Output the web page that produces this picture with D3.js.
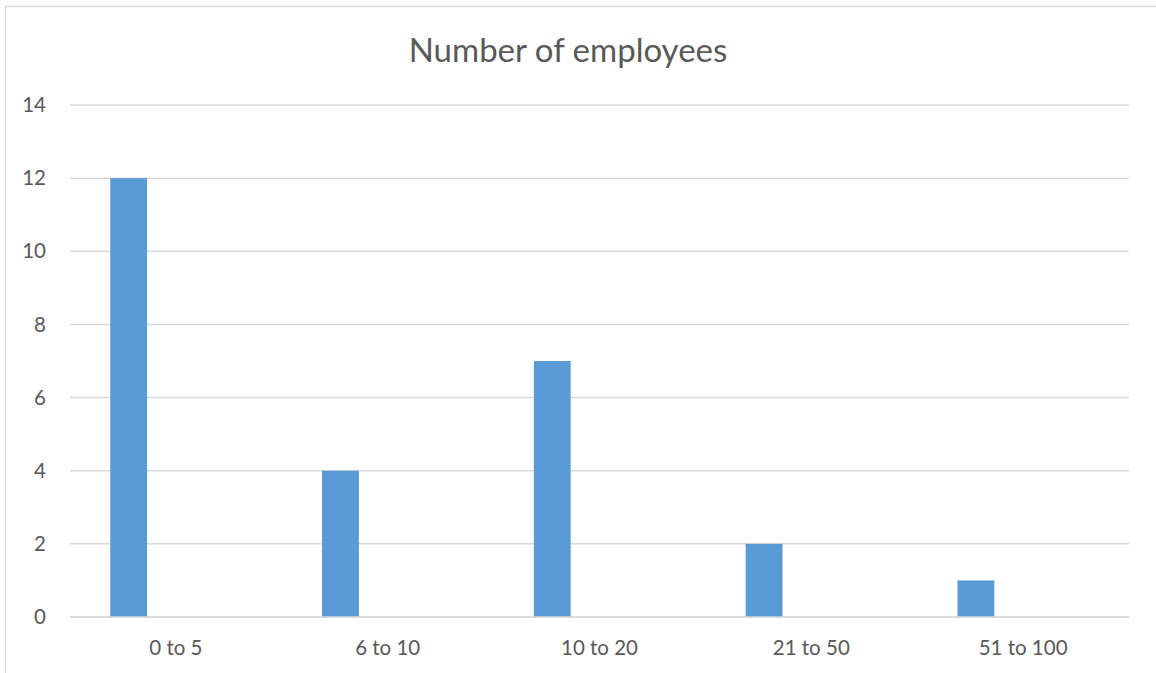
<!DOCTYPE html>
<html>
<head>
<meta charset="utf-8">
<script src="https://cdn.jsdelivr.net/npm/d3@7"></script>
<style>
  body { margin: 0; background: #fff; }
  text { font-family: Lato, "Open Sans", sans-serif; fill: #595959; }
</style>
</head>
<body>
<svg id="chart"></svg>
<script>
// chart values
const categories = ["0 to 5", "6 to 10", "10 to 20", "21 to 50", "51 to 100"]
const employees = [12, 4, 7, 2, 1]
const yTicks = [0, 2, 4, 6, 8, 10, 12, 14]
const title = "Number of employees"

const width = 1156
const height = 673
const margin = {left: 70, right: 27, top: 105, bottom: 56}

const svg = d3.select("#chart")
    .attr("width", width)
    .attr("height", height)

// outer chart border (cropped on right/bottom like the screenshot)
svg.append("rect")
    .attr("x", 5.5).attr("y", 6.5)
    .attr("width", width + 10).attr("height", height + 10)
    .attr("fill", "none")
    .attr("stroke", "#d9d9d9")
    .attr("stroke-width", 1.5)

const x = d3.scaleBand()
    .domain(categories)
    .range([margin.left, width - margin.right])

const y = d3.scaleLinear()
    .domain([0, 14])
    .range([height - margin.bottom, margin.top])

// gridlines
svg.append("g")
    .selectAll("line")
    .data(yTicks)
    .join("line")
    .attr("x1", margin.left)
    .attr("x2", width - margin.right)
    .attr("y1", d => y(d))
    .attr("y2", d => y(d))
    .attr("stroke", "#d9d9d9")
    .attr("stroke-width", 1.5)

// y tick labels
svg.append("g")
    .selectAll("text")
    .data(yTicks)
    .join("text")
    .attr("x", 46)
    .attr("y", d => y(d))
    .attr("dy", "0.35em")
    .attr("text-anchor", "end")
    .attr("font-size", 20.5)
    .text(d => d)

// bars - sit in the left part of each category like excel with an empty 2nd series
const barOffset = x.bandwidth() * 0.19
const barWidth = x.bandwidth() * 0.174
svg.append("g")
    .selectAll("rect")
    .data(categories)
    .join("rect")
    .attr("x", (d) => x(d) + barOffset)
    .attr("y", (d, i) => y(employees[i]))
    .attr("width", barWidth)
    .attr("height", (d, i) => y(0) - y(employees[i]))
    .attr("fill", "#5b9bd5")

// redraw baseline over bars
svg.append("line")
    .attr("x1", margin.left).attr("x2", width - margin.right)
    .attr("y1", y(0)).attr("y2", y(0))
    .attr("stroke", "#d9d9d9")
    .attr("stroke-width", 1.5)

// category labels
svg.append("g")
    .selectAll("text")
    .data(categories)
    .join("text")
    .attr("x", d => x(d) + x.bandwidth() / 2)
    .attr("y", 655)
    .attr("text-anchor", "middle")
    .attr("font-size", 20.5)
    .text(d => d)

svg.append("text")
    .attr("x", 568)
    .attr("y", 62)
    .attr("text-anchor", "middle")
    .attr("font-size", 33)
    .text(title)
</script>
</body>
</html>
